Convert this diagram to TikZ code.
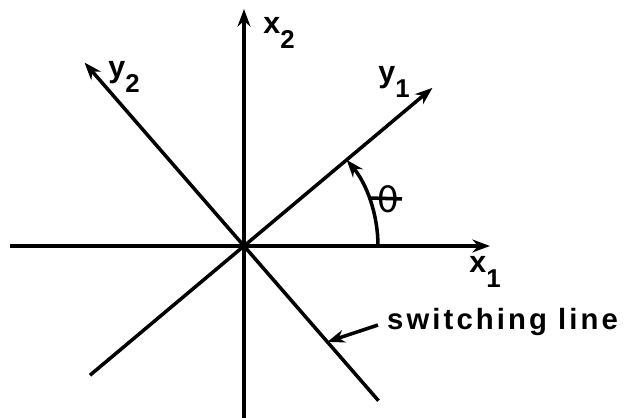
\documentclass[tikz,border=0pt]{standalone}
\usepackage{fontspec}
\setmainfont{Liberation Sans}
\newfontfamily\greekfont{DejaVu Sans}
\usetikzlibrary{arrows.meta}

\tikzset{
  axis/.style={line width=3pt,-{Stealth[length=15pt,width=11pt]}},
  bare/.style={line width=3pt},
  lbl/.style={font=\bfseries\fontsize{26}{30}\selectfont,inner sep=0pt},
}
\newcommand{\lowidx}[1]{\raisebox{-0.5em}{\fontsize{22}{26}\selectfont #1}}

\begin{document}
\begin{tikzpicture}[x=0.03cm,y=0.03cm]
\useasboundingbox (-244,-172) rectangle (386,246);

\coordinate (O) at (0,0);
\coordinate (x1l) at (-234,0);
\coordinate (x1r) at (246,0);
\coordinate (x2b) at (0,-180);
\coordinate (x2t) at (0,237);
\coordinate (y1t) at (40:246);
\coordinate (y1b) at (220:201);
\coordinate (y2t) at (131:243);
\coordinate (y2b) at (-49:205);

% axes
\draw[axis] (x1l) -- (x1r);
\draw[axis] (x2b) -- (x2t);
\draw[axis] (y1b) -- (y1t);
\draw[axis] (y2b) -- (y2t);

\node[lbl] (lx1) at (241,-26) {x\lowidx{1}};
\node[lbl] (lx2) at (35,213) {x\lowidx{2}};
\node[lbl] (ly1) at (150,164) {y\lowidx{1}};
\node[lbl] (ly2) at (-120,169) {y\lowidx{2}};

% angle
\coordinate (a0) at (0:134);
\coordinate (abar) at (21:134);
\draw[axis] (a0) arc[start angle=0,end angle=40,radius=134];
\node[lbl,font=\greekfont\fontsize{30}{34}\selectfont] (th) at (144,47) {θ};
\coordinate (thend) at (158,47);
\draw[bare] (abar) -- (thend);

% switching line
\node[lbl,anchor=west,font=\bfseries\fontsize{25}{30}\selectfont\addfontfeature{LetterSpace=10.5}] (sw) at (143,-76) {switching line};
\coordinate (swp) at (-49:127);
\draw[axis] (sw.west) ++(-9,-3) -- (swp);

\end{tikzpicture}
\end{document}
